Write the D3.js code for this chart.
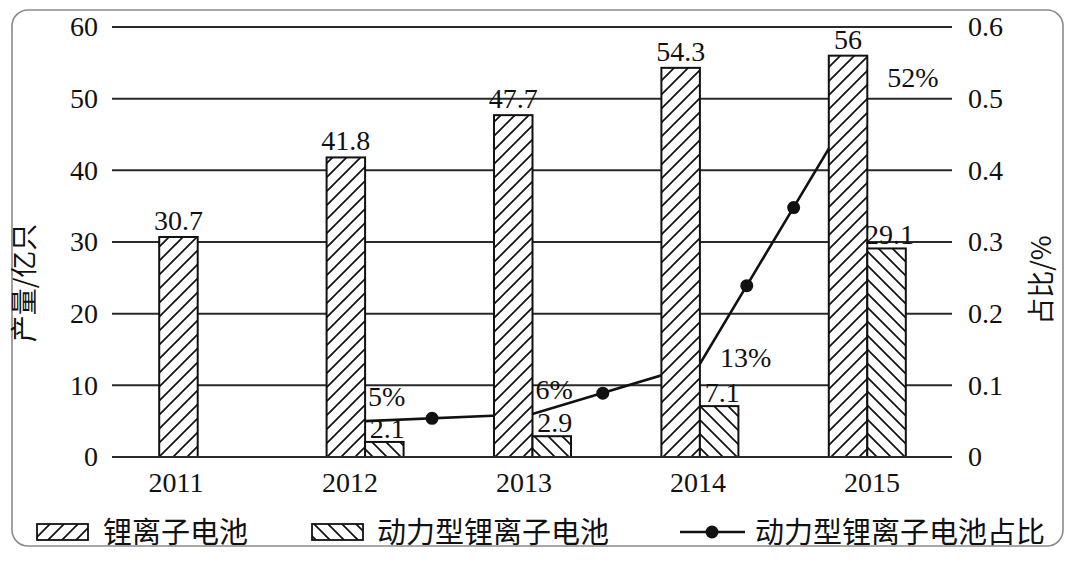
<!DOCTYPE html>
<html>
<head>
<meta charset="utf-8">
<script src="https://cdn.jsdelivr.net/npm/d3@7/dist/d3.min.js"></script>
<style>
  html, body { margin: 0; padding: 0; background: #fff; }
  svg { display: block; }
</style>
</head>
<body>
<svg id="chart" width="1080" height="570"></svg>
<script>
// ---------- data ----------
const years = ["2011", "2012", "2013", "2014", "2015"];
const liIon = [30.7, 41.8, 47.7, 54.3, 56];          // 锂离子电池 (亿只)
const power = [null, 2.1, 2.9, 7.1, 29.1];            // 动力型锂离子电池 (亿只)
const shareYears = [2012, 2013, 2014, 2015];
const shareValues = [0.05, 0.06, 0.13, 0.52];         // 动力型锂离子电池占比
const shareLabels = ["5%", "6%", "13%", "52%"];
const markerYears = [2012.4, 2013.42, 2014.28, 2014.56];
const markerValues = [0.054, 0.089, 0.239, 0.348];
const leftTicks = [0, 10, 20, 30, 40, 50, 60];
const rightTicks = [0, 0.1, 0.2, 0.3, 0.4, 0.5, 0.6];
const seriesNames = ["锂离子电池", "动力型锂离子电池", "动力型锂离子电池占比"];
const leftTitle = "产量/亿只";
const rightTitle = "占比/%";

// ---------- setup ----------
const svg = d3.select("#chart");
const serif = "'Liberation Serif', 'DejaVu Serif', serif";
const cjk = "'Noto Sans CJK SC', sans-serif";
const fs = 28;

const plotLeft = 112, plotRight = 952, plotTop = 27, plotBottom = 457;

const defs = svg.append("defs");
function hatch(id, d) {
  const p = defs.append("pattern").attr("id", id)
    .attr("patternUnits", "userSpaceOnUse").attr("width", 14).attr("height", 14);
  p.append("rect").attr("width", 14).attr("height", 14).attr("fill", "#fff");
  p.append("path").attr("d", d).attr("stroke", "#111").attr("stroke-width", 1.7).attr("fill", "none");
}
hatch("hatchUp", "M0,14 L14,0 M-4,4 L4,-4 M10,18 L18,10");
hatch("hatchDown", "M0,0 L14,14 M-4,10 L4,18 M10,-4 L18,4");

// frame
svg.append("rect").attr("x", 12).attr("y", 10).attr("width", 1051).attr("height", 536)
  .attr("rx", 16).attr("fill", "none").attr("stroke", "#8a8a8a").attr("stroke-width", 1.6);

// scales
const x0 = d3.scaleBand().domain(years).range([114, 951]).paddingInner(0.54).paddingOuter(0.27);
const x1 = d3.scaleBand().domain(["li", "power"]).range([0, x0.bandwidth()]);
const xYear = d3.scaleLinear().domain([2011, 2015])
  .range([x0("2011") + x0.bandwidth() / 2, x0("2015") + x0.bandwidth() / 2]);
const xLabel = d3.scaleBand().domain(years).range([89, 959]);
const yL = d3.scaleLinear().domain([0, 60]).range([plotBottom, plotTop]);
const yR = d3.scaleLinear().domain([0, 0.6]).range([plotBottom, plotTop]);

// gridlines
svg.append("g").selectAll("line").data(leftTicks).join("line")
  .attr("x1", plotLeft).attr("x2", plotRight)
  .attr("y1", d => yL(d)).attr("y2", d => yL(d))
  .attr("stroke", "#2a2a2a").attr("stroke-width", 2);

// axes
function styleAxis(g) {
  g.select(".domain").remove();
  g.selectAll("text").attr("font-family", serif).attr("font-size", fs).attr("fill", "#111");
}
svg.append("g").attr("transform", `translate(${plotLeft - 12},0)`)
  .call(d3.axisLeft(yL).tickValues(leftTicks).tickSize(0).tickPadding(2))
  .call(styleAxis);
svg.append("g").attr("transform", `translate(${plotRight + 14},0)`)
  .call(d3.axisRight(yR).tickValues(rightTicks).tickSize(0).tickPadding(2)
    .tickFormat(d => d === 0 ? "0" : d3.format(".1f")(d)))
  .call(styleAxis);
svg.append("g").attr("transform", `translate(0,${plotBottom + 8})`)
  .call(d3.axisBottom(xLabel).tickSize(0).tickPadding(0))
  .call(g => { styleAxis(g); g.selectAll("text").attr("dy", "0.95em"); });

// axis titles
svg.append("text").attr("transform", "translate(34,283) rotate(-90)")
  .attr("text-anchor", "middle").attr("font-family", cjk).attr("font-size", 27)
  .attr("fill", "#111").text(leftTitle);
svg.append("text").attr("transform", "translate(1051,280) rotate(-90)")
  .attr("text-anchor", "middle").attr("font-family", cjk).attr("font-size", 27)
  .attr("fill", "#111").text(rightTitle);

// share line (drawn beneath bars)
const lineData = shareYears.map((y, i) => [y, shareValues[i]]);
const line = d3.line().x(d => xYear(d[0])).y(d => yR(d[1]));
svg.append("path").datum(lineData).attr("d", line)
  .attr("fill", "none").attr("stroke", "#111").attr("stroke-width", 2.6);

// bars
const liData = years.map((y, i) => ({ year: y, v: liIon[i] }));
const pwData = years.map((y, i) => ({ year: y, v: power[i] })).filter(d => d.v != null);

svg.append("g").selectAll("rect").data(liData).join("rect")
  .attr("x", d => x0(d.year) + x1("li")).attr("width", x1.bandwidth())
  .attr("y", d => yL(d.v)).attr("height", d => yL(0) - yL(d.v))
  .attr("fill", "url(#hatchUp)").attr("stroke", "#111").attr("stroke-width", 2);
svg.append("g").selectAll("rect").data(pwData).join("rect")
  .attr("x", d => x0(d.year) + x1("power")).attr("width", x1.bandwidth())
  .attr("y", d => yL(d.v)).attr("height", d => yL(0) - yL(d.v))
  .attr("fill", "url(#hatchDown)").attr("stroke", "#111").attr("stroke-width", 2);

// zero line on top
svg.append("line").attr("x1", plotLeft).attr("x2", plotRight)
  .attr("y1", yL(0)).attr("y2", yL(0)).attr("stroke", "#2a2a2a").attr("stroke-width", 2);

// markers
svg.append("g").selectAll("circle").data(markerYears.map((y, i) => [y, markerValues[i]])).join("circle")
  .attr("cx", d => xYear(d[0])).attr("cy", d => yR(d[1])).attr("r", 6.5).attr("fill", "#111");

// bar value labels
svg.append("g").selectAll("text").data(liData).join("text")
  .attr("x", d => x0(d.year) + x1("li") + x1.bandwidth() / 2)
  .attr("y", d => yL(d.v) - 7)
  .attr("text-anchor", "middle").attr("font-family", serif).attr("font-size", fs).attr("fill", "#111")
  .text(d => d.v);
svg.append("g").selectAll("text").data(pwData).join("text")
  .attr("x", d => x0(d.year) + x1("power") + x1.bandwidth() / 2 + 3)
  .attr("y", d => yL(d.v) - 4)
  .attr("text-anchor", "middle").attr("font-family", serif).attr("font-size", fs).attr("fill", "#111")
  .text(d => d.v);

// share labels
svg.append("g").selectAll("text").data(lineData).join("text")
  .attr("x", d => xYear(d[0]) + (d[1] < 0.1 ? 3 : 20))
  .attr("y", d => yR(d[1]) + (d[1] < 0.1 ? -15 : 3))
  .attr("font-family", serif).attr("font-size", fs).attr("fill", "#111")
  .text((d, i) => shareLabels[i]);

// legend
const legY = 532;
const leg = svg.append("g");
leg.append("rect").attr("x", 37).attr("y", legY - 8).attr("width", 51).attr("height", 16)
  .attr("fill", "url(#hatchUp)").attr("stroke", "#111").attr("stroke-width", 1.8);
leg.append("text").attr("x", 103).attr("y", legY + 11).attr("font-family", cjk)
  .attr("font-size", 29).attr("fill", "#111").text(seriesNames[0]);
leg.append("rect").attr("x", 312).attr("y", legY - 8).attr("width", 51).attr("height", 16)
  .attr("fill", "url(#hatchDown)").attr("stroke", "#111").attr("stroke-width", 1.8);
leg.append("text").attr("x", 377).attr("y", legY + 11).attr("font-family", cjk)
  .attr("font-size", 29).attr("fill", "#111").text(seriesNames[1]);
leg.append("line").attr("x1", 680).attr("x2", 745).attr("y1", legY).attr("y2", legY)
  .attr("stroke", "#111").attr("stroke-width", 2.6);
leg.append("circle").attr("cx", 712).attr("cy", legY).attr("r", 6.5).attr("fill", "#111");
leg.append("text").attr("x", 755).attr("y", legY + 11).attr("font-family", cjk)
  .attr("font-size", 29).attr("fill", "#111").text(seriesNames[2]);
</script>
</body>
</html>
